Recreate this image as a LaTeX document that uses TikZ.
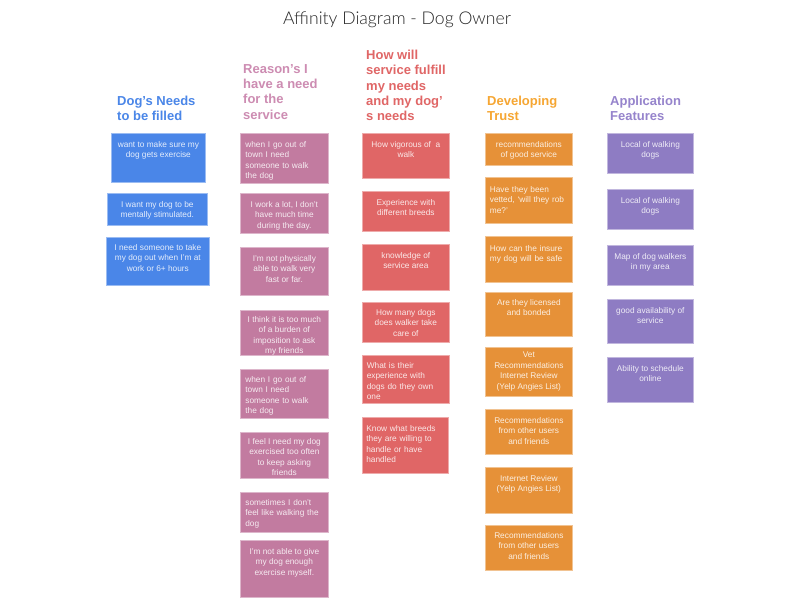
\documentclass[tikz,border=0pt]{standalone}
\usepackage{fontspec}
\setmainfont{Liberation Sans}
\newfontfamily\titlefont{Lato Light}
\usetikzlibrary{positioning}
\definecolor{dnblue}{RGB}{74,134,232}
\definecolor{rspink}{RGB}{194,123,160}
\definecolor{hwred}{RGB}{224,102,102}
\definecolor{dtorange}{RGB}{230,145,56}
\definecolor{afpurple}{RGB}{142,124,195}
\definecolor{dtorangehead}{RGB}{246,166,50}
\definecolor{rspinkhead}{RGB}{205,140,178}
\definecolor{afpurplehead}{RGB}{150,132,204}

\begin{document}
\begin{tikzpicture}[x=1pt,y=-1pt,
 card/.style={draw=#1!55!white,fill=#1,line width=0.7pt,anchor=north west,inner sep=0pt},
 ctxt/.style={anchor=north,inner sep=0pt,text=white,text opacity=0.85,font=\fontsize{8.3}{10.4}\selectfont},
 head/.style={anchor=north west,inner sep=0pt,align=left,text=#1,font=\fontsize{13}{15.3}\selectfont\bfseries}]
\useasboundingbox[fill=white] (0,0) rectangle (800,600);
\node[font=\titlefont\fontsize{17.6}{20}\selectfont,text=black!85] (title) at (397,20) {Affinity Diagram - Dog Owner};
% Dog's needs
\node[head=dnblue] (h1) at (117,96) {Dog's Needs\\to be filled};
\node[card=dnblue,minimum width=94,minimum height=49] (b1) at (111,133) {};
\node[card=dnblue,minimum width=100,minimum height=32] (b2) at (107,193) {};
\node[card=dnblue,minimum width=103,minimum height=48] (b3) at (106,237) {};
\node[ctxt,align=center,below=8pt of b1.north] (b1t) {want to make sure my\\dog gets exercise};
\node[ctxt,align=center,below=8pt of b2.north] (b2t) {I want my dog to be\\mentally stimulated.};
\node[ctxt,align=center,below=7pt of b3.north] (b3t) {I need someone to take\\my dog out when I'm at\\work or 6+ hours};
% Reasons
\node[head=rspinkhead] (h2) at (243,64) {Reason's I\\have a need\\for the\\service};
\node[card=rspink,minimum width=88,minimum height=50] (p1) at (240,133) {};
\node[card=rspink,minimum width=88,minimum height=40] (p2) at (240,193) {};
\node[card=rspink,minimum width=88,minimum height=48] (p3) at (240,247) {};
\node[card=rspink,minimum width=88,minimum height=45] (p4) at (240,310) {};
\node[card=rspink,minimum width=88,minimum height=49] (p5) at (240,369) {};
\node[card=rspink,minimum width=88,minimum height=46] (p6) at (240,432) {};
\node[card=rspink,minimum width=88,minimum height=40] (p7) at (240,492) {};
\node[card=rspink,minimum width=88,minimum height=57] (p8) at (240,540) {};
\node[ctxt,align=left,text width=78,below=8pt of p1.north] (p1t) {when I go out of\\town I need\\someone to walk\\the dog};
\node[ctxt,align=center,below=8pt of p2.north] (p2t) {I work a lot, I don't\\have much time\\during the day.};
\node[ctxt,align=center,below=8pt of p3.north] (p3t) {I'm not physically\\able to walk very\\fast or far.};
\node[ctxt,align=center,below=6pt of p4.north] (p4t) {I think it is too much\\of a burden of\\imposition to ask\\my friends};
\node[ctxt,align=left,text width=78,below=7pt of p5.north] (p5t) {when I go out of\\town I need\\someone to walk\\the dog};
\node[ctxt,align=center,below=6pt of p6.north] (p6t) {I feel I need my dog\\exercised too often\\to keep asking\\friends};
\node[ctxt,align=left,text width=78,below=7pt of p7.north] (p7t) {sometimes I don't\\feel like walking the\\dog};
\node[ctxt,align=center,below=8pt of p8.north] (p8t) {I'm not able to give\\my dog enough\\exercise myself.};
% How will service fulfill
\node[head=hwred] (h3) at (366,50) {How will\\service fulfill\\my needs\\and my dog'\\s needs};
\node[card=hwred,minimum width=87,minimum height=45] (r1) at (362,133) {};
\node[card=hwred,minimum width=87,minimum height=40] (r2) at (362,191) {};
\node[card=hwred,minimum width=87,minimum height=46] (r3) at (362,244) {};
\node[card=hwred,minimum width=87,minimum height=40] (r4) at (362,302) {};
\node[card=hwred,minimum width=87,minimum height=48] (r5) at (362,355) {};
\node[card=hwred,minimum width=86,minimum height=56] (r6) at (362,417) {};
\node[ctxt,align=center,below=8pt of r1.north] (r1t) {How vigorous of\ \ a\\walk};
\node[ctxt,align=center,below=8pt of r2.north] (r2t) {Experience with\\different breeds};
\node[ctxt,align=center,below=8pt of r3.north] (r3t) {knowledge of\\service area};
\node[ctxt,align=center,below=7pt of r4.north] (r4t) {How many dogs\\does walker take\\care of};
\node[ctxt,align=left,text width=78,below=7pt of r5.north] (r5t) {What is their\\experience with\\dogs do they own\\one};
\node[ctxt,align=left,text width=78,below=8pt of r6.north] (r6t) {Know what breeds\\they are willing to\\handle or have\\handled};
% Developing trust
\node[head=dtorangehead] (h4) at (487,96) {Developing\\Trust};
\node[card=dtorange,minimum width=87,minimum height=32] (o1) at (485,133) {};
\node[card=dtorange,minimum width=87,minimum height=46] (o2) at (485,177) {};
\node[card=dtorange,minimum width=87,minimum height=46] (o3) at (485,236) {};
\node[card=dtorange,minimum width=87,minimum height=44] (o4) at (485,292) {};
\node[card=dtorange,minimum width=87,minimum height=49] (o5) at (485,347) {};
\node[card=dtorange,minimum width=87,minimum height=45] (o6) at (485,409) {};
\node[card=dtorange,minimum width=87,minimum height=46] (o7) at (485,467) {};
\node[card=dtorange,minimum width=87,minimum height=45] (o8) at (485,525) {};
\node[ctxt,align=center,below=8pt of o1.north] (o1t) {recommendations\\of good service};
\node[ctxt,align=left,text width=78,below=9pt of o2.north] (o2t) {Have they been\\vetted, `will they rob\\me?'};
\node[ctxt,align=left,text width=78,below=9pt of o3.north] (o3t) {How can the insure\\my dog will be safe};
\node[ctxt,align=center,below=7pt of o4.north] (o4t) {Are they licensed\\and bonded};
\node[ctxt,align=center,below=5pt of o5.north] (o5t) {Vet\\Recommendations\\Internet Review\\(Yelp Angies List)};
\node[ctxt,align=center,below=8pt of o6.north] (o6t) {Recommendations\\from other users\\and friends};
\node[ctxt,align=center,below=8pt of o7.north] (o7t) {Internet Review\\(Yelp Angies List)};
\node[ctxt,align=center,below=7pt of o8.north] (o8t) {Recommendations\\from other users\\and friends};
% Application features
\node[head=afpurplehead] (h5) at (610,96) {Application\\Features};
\node[card=afpurple,minimum width=86,minimum height=40] (f1) at (607,133) {};
\node[card=afpurple,minimum width=86,minimum height=40] (f2) at (607,189) {};
\node[card=afpurple,minimum width=86,minimum height=40] (f3) at (607,245) {};
\node[card=afpurple,minimum width=86,minimum height=44] (f4) at (607,299) {};
\node[card=afpurple,minimum width=86,minimum height=45] (f5) at (607,357) {};
\node[ctxt,align=center,below=8pt of f1.north] (f1t) {Local of walking\\dogs};
\node[ctxt,align=center,below=8pt of f2.north] (f2t) {Local of walking\\dogs};
\node[ctxt,align=center,below=8pt of f3.north] (f3t) {Map of dog walkers\\in my area};
\node[ctxt,align=center,below=8pt of f4.north] (f4t) {good availability of\\service};
\node[ctxt,align=center,below=8pt of f5.north] (f5t) {Ability to schedule\\online};
\end{tikzpicture}
\end{document}
